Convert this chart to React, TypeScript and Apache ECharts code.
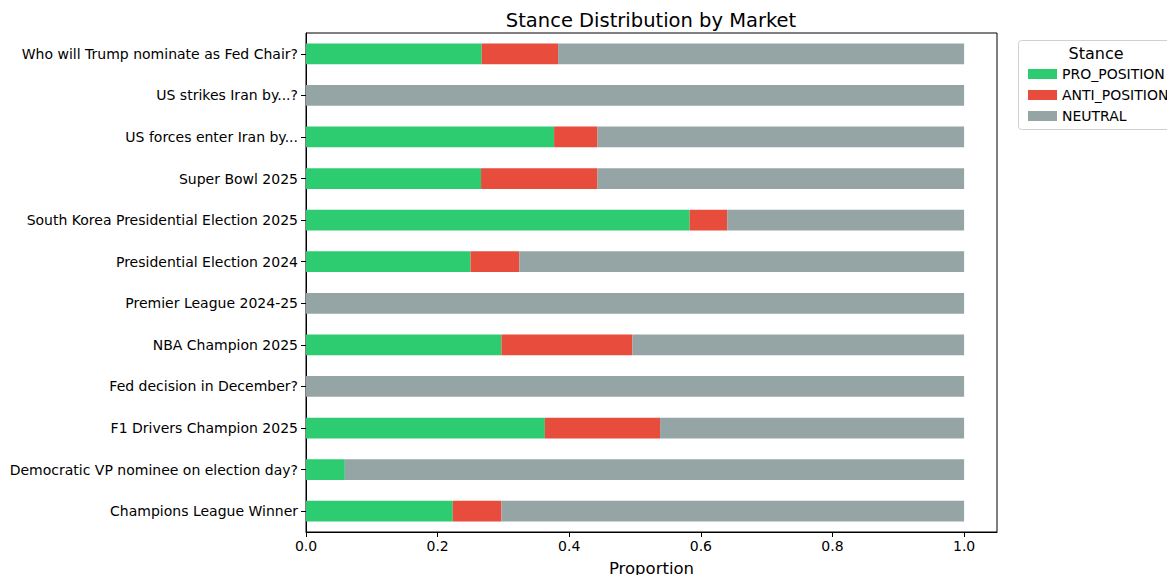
import React, { useEffect, useRef } from "react";
import * as echarts from "echarts";

const categories = [
  "Who will Trump nominate as Fed Chair?",
  "US strikes Iran by...?",
  "US forces enter Iran by...",
  "Super Bowl 2025",
  "South Korea Presidential Election 2025",
  "Presidential Election 2024",
  "Premier League 2024-25",
  "NBA Champion 2025",
  "Fed decision in December?",
  "F1 Drivers Champion 2025",
  "Democratic VP nominee on election day?",
  "Champions League Winner",
];

const proPosition = [0.267, 0, 0.377, 0.266, 0.583, 0.25, 0, 0.297, 0, 0.363, 0.059, 0.223];
const antiPosition = [0.116, 0, 0.066, 0.177, 0.057, 0.074, 0, 0.199, 0, 0.175, 0, 0.074];
const neutral = proPosition.map((p, i) => +(1 - p - antiPosition[i]).toFixed(3));

const xTicks = [0, 0.2, 0.4, 0.6, 0.8, 1.0];

const FONT = "DejaVu Sans";

export default function App() {
  const ref = useRef<HTMLDivElement>(null);
  useEffect(() => {
    if (!ref.current) return;
    const chart = echarts.init(ref.current, undefined, { renderer: "svg" });
    const mk = (name: string, data: number[], color: string) => ({
      name,
      type: "bar",
      stack: "total",
      data,
      barWidth: "50%",
      itemStyle: { color },
      emphasis: { disabled: true },
    });
    chart.setOption({
      animation: false,
      textStyle: { fontFamily: FONT },
      title: {
        text: "Stance Distribution by Market",
        left: 646,
        top: 5,
        textAlign: "center",
        textStyle: { fontFamily: FONT, fontSize: 19.5, fontWeight: "normal", color: "#000" },
      },
      grid: {
        left: 306,
        right: 170,
        top: 33,
        bottom: 43,
        outerBoundsMode: "none",
        containLabel: false,
        show: true,
        borderColor: "#000",
        borderWidth: 1,
        backgroundColor: "transparent",
      },
      legend: {
        orient: "vertical",
        left: 1023,
        top: 62,
        itemWidth: 29,
        itemHeight: 10,
        itemGap: 7,
        icon: "rect",
        textStyle: { fontFamily: FONT, fontSize: 14, color: "#000" },
        data: ["PRO_POSITION", "ANTI_POSITION", "NEUTRAL"],
      },
      graphic: [
        {
          type: "rect",
          shape: { x: 1018.5, y: 40.5, width: 170, height: 89, r: 3 },
          style: { fill: "#fff", stroke: "#d0d0d0", lineWidth: 1 },
          z: -1,
        },
        {
          type: "text",
          x: 1096,
          y: 53,
          style: {
            text: "Stance",
            fontFamily: FONT,
            fontSize: 16,
            fill: "#000",
            align: "center",
            verticalAlign: "middle",
          },
        },
      ],
      xAxis: {
        type: "value",
        min: 0,
        max: 1.05,
        interval: 0.2,
        name: "Proportion",
        nameLocation: "middle",
        nameGap: 28,
        nameTextStyle: { fontFamily: FONT, fontSize: 16.5, color: "#000" },
        splitLine: { show: false },
        axisLine: { show: true, lineStyle: { color: "#000" } },
        axisTick: { show: true, length: 5, lineStyle: { color: "#000" } },
        axisLabel: {
          showMaxLabel: false,
          fontFamily: FONT,
          fontSize: 14,
          color: "#000",
          margin: 7,
          formatter: (v: number) => (xTicks.some((t) => Math.abs(t - v) < 1e-6) ? v.toFixed(1) : ""),
        },
      },
      yAxis: {
        type: "category",
        inverse: true,
        data: categories,
        axisLine: { show: true, lineStyle: { color: "#000" } },
        axisTick: { show: true, alignWithLabel: true, length: 5, lineStyle: { color: "#000" } },
        axisLabel: { fontFamily: FONT, fontSize: 14, color: "#000", margin: 8 },
      },
      series: [
        mk("PRO_POSITION", proPosition, "#2ecc71"),
        mk("ANTI_POSITION", antiPosition, "#e74c3c"),
        mk("NEUTRAL", neutral, "#95a5a6"),
      ],
    });
    return () => chart.dispose();
  }, []);
  return (
    <div
      ref={ref}
      style={{ position: "fixed", left: 0, top: 0, width: 1167, height: 575, background: "#fff" }}
    />
  );
}
